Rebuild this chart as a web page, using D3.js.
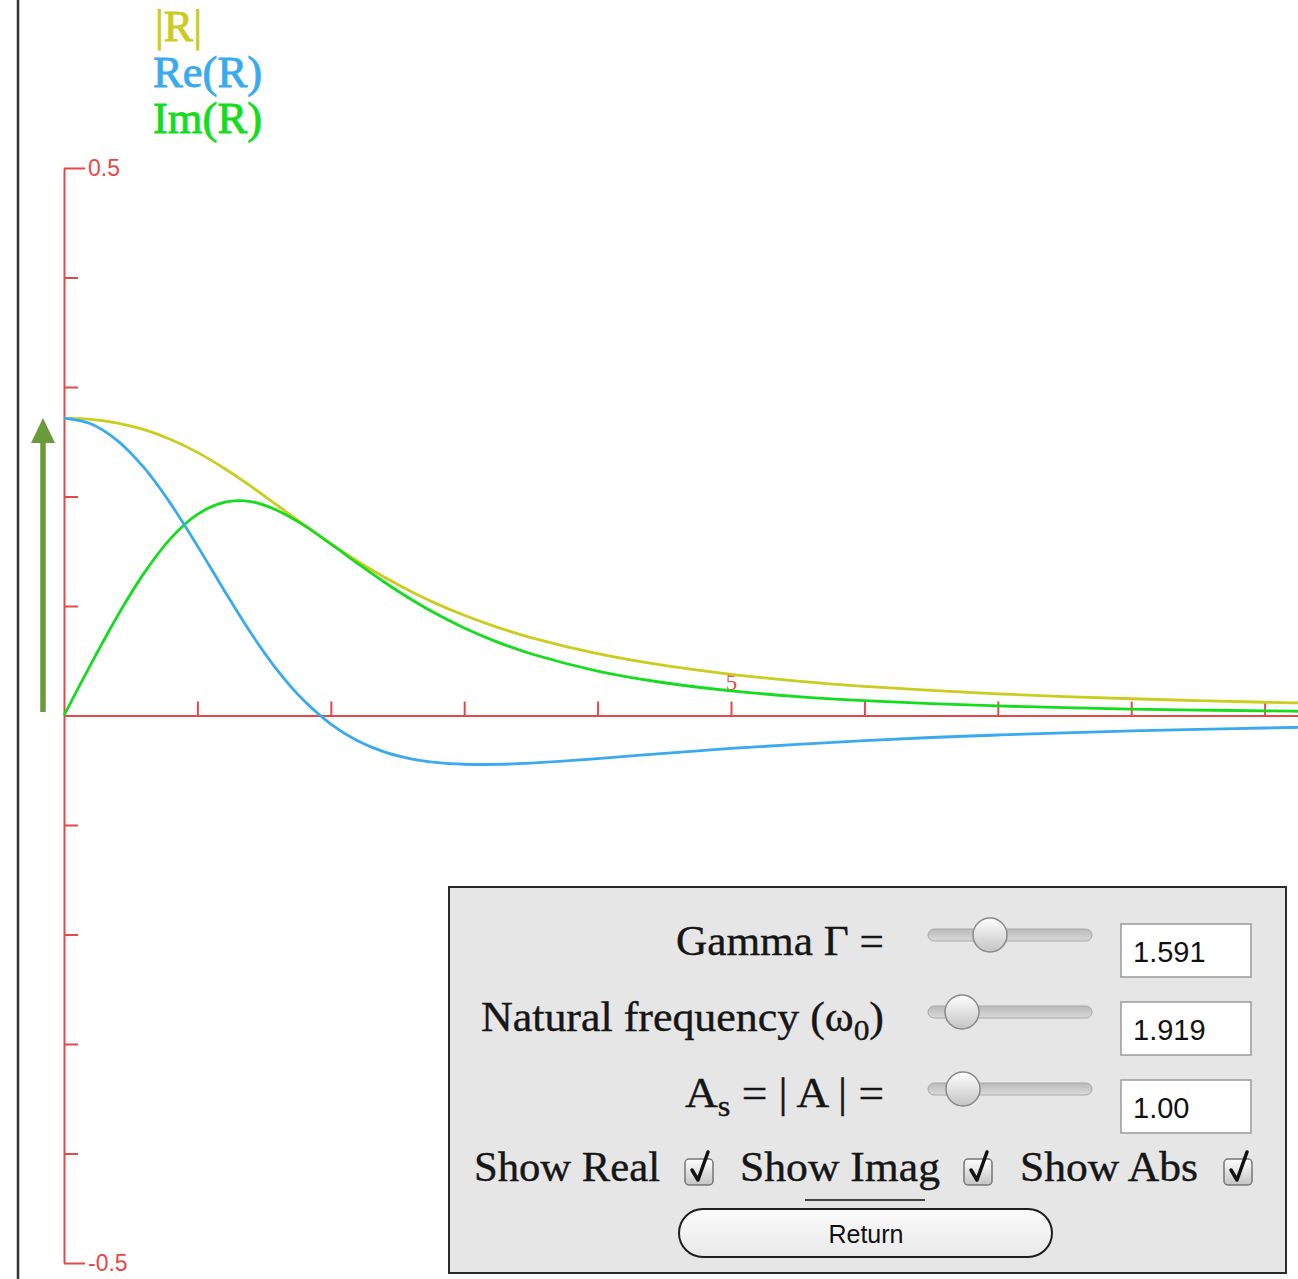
<!DOCTYPE html>
<html>
<head>
<meta charset="utf-8">
<script src="https://cdn.jsdelivr.net/npm/d3@7"></script>
<style>
    body { margin: 0; background: #fff; }
    svg { display: block; }
</style>
</head>
<body>
<svg id="chart" width="1298" height="1279"></svg>
<script>
// values (R versus omega)
let omega = [0, 0.2, 0.4, 0.6, 0.8, 1.0, 1.2, 1.4, 1.6, 1.8, 2.0, 2.2, 2.4, 2.6, 2.8, 3.0,
    3.25, 3.5, 4, 4.5, 5, 5.5, 6, 6.5, 7, 7.5, 8, 8.5, 9, 9.5];
let absR = [0.2715, 0.2704, 0.2670, 0.2610, 0.2521, 0.2403, 0.2258, 0.2094, 0.1918, 0.1741,
    0.1569, 0.1409, 0.1264, 0.1133, 0.1017, 0.0915, 0.0805, 0.0712, 0.0565, 0.0457,
    0.0376, 0.0314, 0.0266, 0.0229, 0.0198, 0.0173, 0.0153, 0.0136, 0.0121, 0.0109];
let reR = [0.2715, 0.2664, 0.2511, 0.2263, 0.1933, 0.1549, 0.1144, 0.0755, 0.0413, 0.0134,
    -0.0078, -0.0230, -0.0332, -0.0395, -0.0430, -0.0445, -0.0446, -0.0434, -0.0393, -0.0346,
    -0.0301, -0.0263, -0.0229, -0.0201, -0.0178, -0.0158, -0.0141, -0.0126, -0.0114, -0.0103];
let imR = [0, 0.0465, 0.0907, 0.1300, 0.1618, 0.1837, 0.1947, 0.1953, 0.1873, 0.1736,
    0.1567, 0.1390, 0.1219, 0.1062, 0.0922, 0.0800, 0.0670, 0.0564, 0.0406, 0.0299,
    0.0225, 0.0173, 0.0136, 0.0108, 0.0087, 0.0072, 0.0059, 0.0050, 0.0042, 0.0036];

let yTicks = [-0.5, -0.4, -0.3, -0.2, -0.1, 0, 0.1, 0.2, 0.3, 0.4, 0.5];
let xTicks = [1, 2, 3, 4, 5, 6, 7, 8, 9];
let legendLabels = ["|R|", "Re(R)", "Im(R)"];

let paramLabels = ["Gamma \u0393 =", "Natural frequency (\u03c9", "A"];
let paramValues = ["1.591", "1.919", "1.00"];
let checkLabels = ["Show Real", "Show Imag", "Show Abs"];

const axisColor = "#e8474a";
const colors = {abs: "#cccc1e", re: "#3aaaee", im: "#14dd1e"};

let svg = d3.select("#chart");

// left frame line
svg.append("line")
    .attr("x1", 18).attr("x2", 18).attr("y1", 0).attr("y2", 1279)
    .attr("stroke", "#333").attr("stroke-width", 2.5);

let x = d3.scaleLinear().domain([0, 10]).range([64, 64 + 1334]);
let y = d3.scaleLinear().domain([-0.5, 0.5]).range([1263, 168]);

// y axis, ticks pointing right
let yAxis = svg.append("g")
    .attr("transform", "translate(" + x(0) + ",0)")
    .call(d3.axisRight(y).tickValues(yTicks).tickSize(14).tickSizeOuter(0).tickPadding(10)
        .tickFormat(d => Math.abs(d) === 0.5 ? String(d) : ""));
yAxis.select(".domain").attr("stroke", axisColor).attr("stroke-width", 2);
yAxis.selectAll(".tick line").attr("stroke", axisColor).attr("stroke-width", 2)
    .attr("x2", d => Math.abs(d) === 0.5 ? 21 : 14);
yAxis.selectAll(".tick text")
    .attr("fill", axisColor).attr("font-family", "Liberation Sans").attr("font-size", 23);

// x axis, ticks pointing up
let xAxis = svg.append("g")
    .attr("transform", "translate(0," + y(0) + ")")
    .call(d3.axisTop(x).tickValues(xTicks).tickSize(14).tickSizeOuter(0).tickPadding(12)
        .tickFormat(d => d === 5 ? "5" : ""));
xAxis.select(".domain").attr("stroke", axisColor).attr("stroke-width", 2);
xAxis.selectAll(".tick line").attr("stroke", axisColor).attr("stroke-width", 2);
xAxis.selectAll(".tick text")
    .attr("fill", axisColor).attr("font-family", "Liberation Serif").attr("font-size", 23);

// curves
let series = [
    {key: "abs", values: absR},
    {key: "im", values: imR},
    {key: "re", values: reR}
];
let line = d3.line()
    .x((d, i) => x(omega[i]))
    .y(d => y(d))
    .curve(d3.curveCatmullRom);

svg.append("g").selectAll("path")
    .data(series)
    .join("path")
    .attr("d", d => line(d.values))
    .attr("fill", "none")
    .attr("stroke", d => colors[d.key])
    .attr("stroke-width", 2.8);

// legend
let legendColors = [colors.abs, colors.re, colors.im];
svg.append("g").selectAll("text")
    .data(legendLabels)
    .join("text")
    .attr("x", (d, i) => i === 0 ? 155 : 153)
    .attr("y", (d, i) => 41 + i * 46)
    .attr("font-family", "Liberation Serif")
    .attr("font-size", 45)
    .attr("fill", (d, i) => legendColors[i])
    .attr("stroke", (d, i) => legendColors[i])
    .attr("stroke-width", 0.9)
    .attr("textLength", (d, i) => i === 0 ? 47 : 109)
    .attr("lengthAdjust", "spacingAndGlyphs")
    .text(d => d);

// green arrow marking R(0)
svg.append("line")
    .attr("x1", 43).attr("x2", 43).attr("y1", 712).attr("y2", 438)
    .attr("stroke", "#6a9a3a").attr("stroke-width", 5.5);
svg.append("path")
    .attr("d", "M43,418 L55,443 L31,443 Z")
    .attr("fill", "#6a9a3a");

// ---- control panel ----
let defs = svg.append("defs");
let trackGrad = defs.append("linearGradient").attr("id", "trackGrad")
    .attr("x1", 0).attr("x2", 0).attr("y1", 0).attr("y2", 1);
trackGrad.append("stop").attr("offset", "0%").attr("stop-color", "#b9b9b9");
trackGrad.append("stop").attr("offset", "100%").attr("stop-color", "#dadada");
let knobGrad = defs.append("linearGradient").attr("id", "knobGrad")
    .attr("x1", 0).attr("x2", 0).attr("y1", 0).attr("y2", 1);
knobGrad.append("stop").attr("offset", "0%").attr("stop-color", "#ffffff");
knobGrad.append("stop").attr("offset", "100%").attr("stop-color", "#c4c4c4");
let btnGrad = defs.append("linearGradient").attr("id", "btnGrad")
    .attr("x1", 0).attr("x2", 0).attr("y1", 0).attr("y2", 1);
btnGrad.append("stop").attr("offset", "0%").attr("stop-color", "#fbfbfb");
btnGrad.append("stop").attr("offset", "100%").attr("stop-color", "#e9e9e9");

let panel = svg.append("g");
panel.append("rect")
    .attr("x", 449).attr("y", 887).attr("width", 837).attr("height", 386)
    .attr("fill", "#e6e6e6").attr("stroke", "#2a2a2a").attr("stroke-width", 2);

const serif = "Liberation Serif";
const rowBase = [955, 1031, 1107];
const rowLeft = [676, 481, 685];
const knobX = [990, 962, 963];
const rowMid = [935, 1012, 1089];

// row labels (stretched to the width of the original wider serif)
let lbl = panel.append("g")
    .attr("font-family", serif).attr("font-size", 42).attr("fill", "#161616")
    .attr("stroke", "#161616").attr("stroke-width", 0.4)
    .attr("lengthAdjust", "spacingAndGlyphs");
lbl.append("text").attr("x", rowLeft[0]).attr("y", rowBase[0])
    .attr("textLength", 884 - rowLeft[0]).attr("lengthAdjust", "spacingAndGlyphs")
    .text(paramLabels[0]);
let t2 = lbl.append("text").attr("x", rowLeft[1]).attr("y", rowBase[1])
    .attr("textLength", 884 - rowLeft[1]).attr("lengthAdjust", "spacingAndGlyphs");
t2.append("tspan").text(paramLabels[1]);
t2.append("tspan").attr("dy", 9).attr("font-size", 30).text("0");
t2.append("tspan").attr("dy", -9).text(")");
let t3 = lbl.append("text").attr("x", rowLeft[2]).attr("y", rowBase[2])
    .attr("textLength", 884 - rowLeft[2]).attr("lengthAdjust", "spacingAndGlyphs");
t3.append("tspan").text(paramLabels[2]);
t3.append("tspan").attr("dy", 9).attr("font-size", 30).text("s");
t3.append("tspan").attr("dy", -9).text(" = | A | =");

// sliders
rowMid.forEach((cy, i) => {
    panel.append("rect")
        .attr("x", 928).attr("y", cy - 6).attr("width", 164).attr("height", 12).attr("rx", 6)
        .attr("fill", "url(#trackGrad)").attr("stroke", "#a8a8a8").attr("stroke-width", 1);
    panel.append("circle")
        .attr("cx", knobX[i]).attr("cy", cy).attr("r", 17)
        .attr("fill", "url(#knobGrad)").attr("stroke", "#8a8a8a").attr("stroke-width", 1.5);
});

// value boxes
paramValues.forEach((v, i) => {
    let top = [924, 1002, 1080][i];
    panel.append("rect")
        .attr("x", 1121).attr("y", top).attr("width", 130).attr("height", 53)
        .attr("fill", "#fff").attr("stroke", "#9a9a9a").attr("stroke-width", 1.5);
    panel.append("text")
        .attr("x", 1133).attr("y", top + 38)
        .attr("font-family", "Liberation Sans").attr("font-size", 29).attr("fill", "#111")
        .text(v);
});

// checkboxes row
const checkTextX = [474, 740, 1020];
const checkTextW = [186, 200, 178];
const boxX = [685, 964, 1224];
checkLabels.forEach((c, i) => {
    panel.append("text")
        .attr("x", checkTextX[i]).attr("y", 1181)
        .attr("font-family", serif).attr("font-size", 42).attr("fill", "#161616")
        .attr("stroke", "#161616").attr("stroke-width", 0.4)
        .attr("textLength", checkTextW[i]).attr("lengthAdjust", "spacingAndGlyphs")
        .text(c);
    panel.append("rect")
        .attr("x", boxX[i]).attr("y", 1159).attr("width", 28).attr("height", 26).attr("rx", 4)
        .attr("fill", "url(#knobGrad)").attr("stroke", "#777").attr("stroke-width", 1.5);
    panel.append("path")
        .attr("d", "M" + (boxX[i] + 7) + ",1170 L" + (boxX[i] + 13) + ",1180 L" + (boxX[i] + 23) + ",1152")
        .attr("fill", "none").attr("stroke", "#111").attr("stroke-width", 3.5)
        .attr("stroke-linejoin", "round").attr("stroke-linecap", "round");
});

// focus underline + Return button
panel.append("line")
    .attr("x1", 805).attr("x2", 925).attr("y1", 1200).attr("y2", 1200)
    .attr("stroke", "#444").attr("stroke-width", 2);
panel.append("rect")
    .attr("x", 679).attr("y", 1209).attr("width", 373).attr("height", 48).attr("rx", 24)
    .attr("fill", "url(#btnGrad)").attr("stroke", "#1e1e1e").attr("stroke-width", 2);
panel.append("text")
    .attr("x", 866).attr("y", 1243).attr("text-anchor", "middle")
    .attr("font-family", "Liberation Sans").attr("font-size", 25).attr("fill", "#111")
    .text("Return");
</script>
</body>
</html>
